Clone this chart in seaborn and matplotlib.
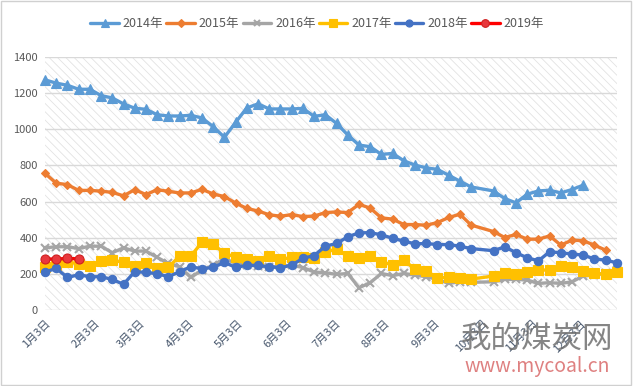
import matplotlib
matplotlib.use('Agg')
import matplotlib.pyplot as plt
from matplotlib.patches import Rectangle
import numpy as np
import pandas as pd
import seaborn as sns

nan = np.nan

# weekly sampling dates (drawn on a single-year date axis)
weeks = pd.date_range('2018-01-03', periods=52, freq='7D')
tick_dates = pd.date_range('2018-01-01', periods=12, freq='MS') + pd.Timedelta(days=2)
tick_labels = ['1月3日', '2月3日', '3月3日', '4月3日', '5月3日', '6月3日',
               '7月3日', '8月3日', '9月3日', '10月3日', '11月3日', '12月3日']

y2014 = [1274, 1256, 1244, 1222, 1222, 1187, 1174, 1141, 1117, 1111,
         1081, 1074, 1074, 1078, 1063, 1015, 956, 1039, 1119, 1141,
         1113, 1113, 1113, 1116, 1072, 1081, 1033, 969, 913, 904,
         861, 867, 826, 802, 787, 778, 746, 713, 681, nan,
         659, 617, 593, 641, 659, 663, 648, 667, 691, nan, nan, nan]
y2015 = [756, 702, 694, 662, 662, 658, 651, 632, 666, 639,
         666, 657, 648, 648, 668, 642, 628, 592, 562, 548,
         527, 519, 528, 517, 520, 539, 543, 539, 585, 564,
         510, 503, 473, 473, 469, 484, 512, 530, 470, nan,
         434, 401, 418, 392, 392, 410, 359, 387, 383, 359, 331, nan]
y2016 = [344, 350, 350, 340, 353, 353, 317, 344, 326, 326,
         291, 258, 239, 180, 221, 248, 285, 258, 248, 243,
         236, 243, 248, 235, 210, 206, 197, 202, 123, 151,
         202, 190, 202, 193, 184, 169, 147, 156, 153, nan,
         156, 169, 169, 166, 147, 151, 147, 156, 188, 193, 206, 221]
y2017 = [236, 248, 267, 254, 243, 269, 276, 263, 245, 258,
         232, 236, 298, 298, 375, 364, 313, 294, 283, 271,
         298, 280, 291, 295, 287, 322, 335, 298, 285, 298,
         267, 249, 276, 225, 215, 179, 180, 179, 171, nan,
         188, 202, 199, 212, 221, 221, 243, 239, 215, 202, 197, 208]
y2018 = [210, 230, 180, 195, 184, 184, 169, 142, 212, 208,
         201, 184, 212, 239, 228, 236, 263, 236, 247, 247,
         239, 234, 248, 286, 301, 353, 368, 405, 427, 428,
         416, 397, 381, 366, 368, 362, 362, 353, 340, nan,
         328, 350, 317, 289, 272, 322, 317, 309, 304, 282, 276, 261]
y2019 = [282, 282, 285, 283] + [nan] * 48

series = ['2014年', '2015年', '2016年', '2017年', '2018年', '2019年']
values = [y2014, y2015, y2016, y2017, y2018, y2019]
colors = ['#5B9BD5', '#ED7D31', '#A5A5A5', '#FFC000', '#4472C4', '#FF0000']
markers = ['^', 'D', 'x', 's', 'o', 'o']
msizes = [6.5, 4.5, 5.5, 6.5, 6, 6.5]

sns.set_theme(style='white')
plt.rcParams['font.family'] = ['Noto Sans CJK SC', 'DejaVu Sans']
plt.rcParams['hatch.linewidth'] = 0.6

fig = plt.figure(figsize=(6.34, 3.86), dpi=100)
ax = fig.add_axes([0.071, 0.197, 0.902, 0.655])

# hatched plot area like the Excel chart
ax.add_patch(Rectangle((0, 0), 1, 1, transform=ax.transAxes, facecolor='white',
                       edgecolor='#e3e3e3', hatch='\\\\\\\\', linewidth=0, zorder=0))

for name, vals, c, m, ms in zip(series, values, colors, markers, msizes):
    df = pd.DataFrame({'date': weeks, 'price': vals}).dropna()
    red = name == '2019年'
    sns.lineplot(data=df, x='date', y='price', ax=ax, color=c, linewidth=2.4,
                 marker=m, markersize=ms, markerfacecolor='#E8383D' if red else c,
                 markeredgecolor='#D02020' if red else c,
                 markeredgewidth=1.5 if m == 'x' else 0.8,
                 estimator=None, label=name, clip_on=False, zorder=3)

ax.set_xlim(weeks[0], weeks[-1])
ax.set_ylim(0, 1400)
ax.set_yticks(range(0, 1401, 200))
ax.set_xticks(tick_dates)
ax.set_xticklabels(tick_labels, rotation=45, ha='right', rotation_mode='anchor')
ax.tick_params(axis='x', labelsize=8, labelcolor='#44546A', length=0, pad=6)
ax.tick_params(axis='y', labelsize=8, labelcolor='#595959', length=0, pad=5)
ax.set_xlabel('')
ax.set_ylabel('')
ax.grid(axis='y', color='#d9d9d9', linewidth=1)
ax.grid(axis='x', visible=False)
ax.set_axisbelow(True)
for s in ax.spines.values():
    s.set_visible(False)

ax.get_legend().remove()
handles, labels = ax.get_legend_handles_labels()
fig.legend(handles, labels, loc='upper center', bbox_to_anchor=(0.5, 0.985),
           ncol=6, frameon=False, fontsize=9, handlelength=2.3, markerscale=0.85,
           columnspacing=0.25, handletextpad=0.3, labelcolor='#595959')

# watermark
fig.text(0.726, 0.12, '我的煤炭网', fontsize=22, color='#707070', alpha=0.85,
         va='center', ha='left')
fig.text(0.847, 0.05, 'www.mycoal.cn', fontsize=14, color='#D96A6A', alpha=0.85,
         va='center', ha='center')

# chart border
fig.add_artist(Rectangle((0.002, 0.003), 0.994, 0.994, transform=fig.transFigure,
                         fill=False, edgecolor='#d0d0d0', linewidth=1))

fig.savefig('out.png', dpi=100)
